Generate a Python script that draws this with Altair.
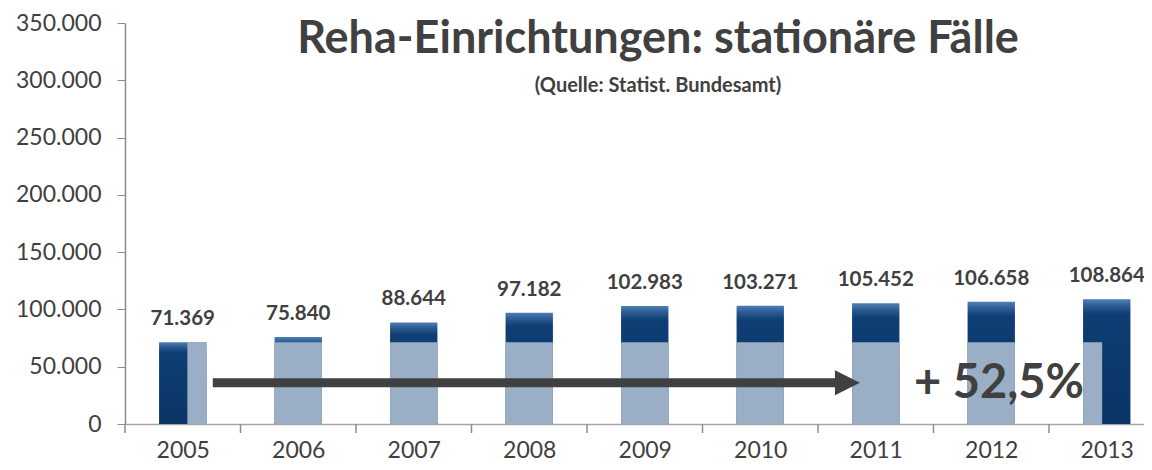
import altair as alt
import pandas as pd

years = [2005, 2006, 2007, 2008, 2009, 2010, 2011, 2012, 2013]
values = [71369, 75840, 88644, 97182, 102983, 103271, 105452, 106658, 108864]
y_ticks = [0, 50000, 100000, 150000, 200000, 250000, 300000, 350000]

title_text = "Reha-Einrichtungen: stationäre Fälle"
subtitle_text = "(Quelle: Statist. Bundesamt)"

# annotation constants (data units)
overlay_span = [2005.04, 2012.96]
arrow_x = [2005.26, 2010.65]
arrow_tip_center = 2010.755
arrow_y = 36000

TEXT = "#404040"
FONT = "Lato"
half = 0.205

def fmt(v):
    return f"{v:,}".replace(",", ".")

df = pd.DataFrame({
    "year": years,
    "value": values,
    "label": [fmt(v) for v in values],
})
df["x1"] = df["year"] - half
df["x2"] = df["year"] + half
df["lx1"] = df["x1"].clip(lower=overlay_span[0])
df["lx2"] = df["x2"].clip(upper=overlay_span[1])
df["base"] = values[0]

bounds = pd.DataFrame({"b": [y - 0.5 for y in years]})
arrow_df = pd.DataFrame({"xa": [arrow_x[0]], "xb": [arrow_x[1]], "ya": [arrow_y]})
head_df = pd.DataFrame({"xh": [arrow_tip_center], "ya": [arrow_y]})
growth = values[-1] / values[0] - 1
pct_df = pd.DataFrame({"t": ["+ " + f"{growth*100:.1f}".replace(".", ",") + "%"]})
title_df = pd.DataFrame({"t": [title_text]})
sub_df = pd.DataFrame({"t": [subtitle_text]})

W, H = 1019, 401
TOP = 15
STEP = 115.5
xscale = alt.Scale(domain=[2004.5, 2004.5 + W / STEP], nice=False, zero=False)
yscale = alt.Scale(domain=[0, 350000], nice=False)

xaxis = alt.Axis(
    values=years, format="d", ticks=False, labelFont=FONT, labelFontSize=23,
    labelColor=TEXT, labelPadding=15, domainColor="#a6a6a6", domainWidth=1.5,
    grid=False, title=None,
)
yaxis = alt.Axis(
    values=y_ticks, labelExpr="replace(format(datum.value, ','), ',', '.')",
    labelFont=FONT, labelFontSize=23, labelColor=TEXT, labelPadding=16,
    tickSize=8, tickColor="#8c8c8c", domainColor="#8c8c8c", domainWidth=1.5,
    grid=False, title=None,
)

dark_grad = alt.Gradient(
    gradient="linear", x1=0, y1=0, x2=0, y2=1,
    stops=[
        alt.GradientStop(offset=0, color="#4f80b5"),
        alt.GradientStop(offset=0.05, color="#2e5e95"),
        alt.GradientStop(offset=0.12, color="#0e3e74"),
        alt.GradientStop(offset=1, color="#0a3466"),
    ],
)

dark = alt.Chart(df).mark_bar(color=dark_grad).encode(
    x=alt.X("x1:Q", scale=xscale, axis=xaxis, title=None),
    x2="x2",
    y=alt.Y("value:Q", scale=yscale, axis=yaxis, title=None),
    y2=alt.datum(0),
)

light = alt.Chart(df).mark_bar(color="#9aaec5").encode(
    x=alt.X("lx1:Q", title=None),
    x2="lx2",
    y=alt.Y("base:Q", title=None),
    y2=alt.datum(0),
)

labels = alt.Chart(df).mark_text(
    font=FONT, fontSize=20.5, fontWeight="bold", color=TEXT,
    baseline="alphabetic", dy=-17,
).encode(
    x=alt.X("year:Q", title=None),
    y=alt.Y("value:Q", title=None),
    text="label:N",
)

ticks = alt.Chart(bounds).mark_rule(color="#8c8c8c", strokeWidth=1.5).encode(
    x=alt.X("b:Q", title=None),
    y=alt.value(H),
    y2=alt.value(H + 9),
)

shaft = alt.Chart(arrow_df).mark_rule(color=TEXT, strokeWidth=9, strokeCap="butt").encode(
    x=alt.X("xa:Q", title=None),
    x2="xb",
    y=alt.Y("ya:Q", title=None),
)

head = alt.Chart(head_df).mark_point(
    shape="M -1 -1 L 1 0 L -1 1 Z", size=625, filled=True, color=TEXT, opacity=1,
    strokeWidth=0,
).encode(
    x=alt.X("xh:Q", title=None),
    y=alt.Y("ya:Q", title=None),
)

pct = alt.Chart(pct_df).mark_text(
    font=FONT, fontSize=47, fontWeight="bold", color=TEXT,
    align="center", baseline="alphabetic",
).encode(x=alt.value(874), y=alt.value(398 - 8 - TOP), text="t:N")

title = alt.Chart(title_df).mark_text(
    font=FONT, fontSize=45, fontWeight="bold", color=TEXT,
    align="center", baseline="alphabetic",
).encode(x=alt.value(533), y=alt.value(53 - 8 - TOP), text="t:N")

subtitle = alt.Chart(sub_df).mark_text(
    font=FONT, fontSize=20, fontWeight="bold", color=TEXT,
    align="center", baseline="alphabetic",
).encode(x=alt.value(533), y=alt.value(92 - 8 - TOP), text="t:N")

chart = alt.layer(
    dark, light, labels, ticks, shaft, head, pct, title, subtitle
).properties(
    width=W, height=H,
    autosize=alt.AutoSizeParams(type="none"),
    padding={"left": 117, "top": TOP, "right": 0, "bottom": 38},
).configure_view(stroke=None)

chart.save("out.html", embed_options={"renderer": "svg", "actions": False})
